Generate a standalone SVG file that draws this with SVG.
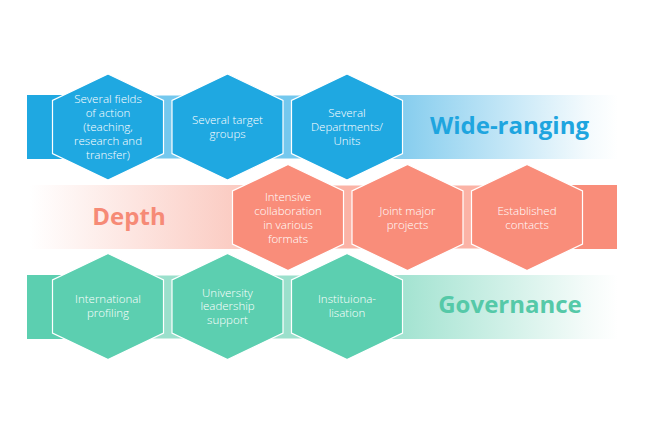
<svg xmlns="http://www.w3.org/2000/svg" xmlns:xlink="http://www.w3.org/1999/xlink" width="651" height="434" viewBox="0 0 651 434">
<style>
.hex{stroke:#ffffff;stroke-width:1.2}
.blue{fill:#1fa8e1}
.blueL{fill:#74c8ee;stroke:#ffffff;stroke-width:1}
.sal{fill:#f98d7a}
.salL{fill:#fbb3a6;stroke:#ffffff;stroke-width:1}
.grn{fill:#5ccfb0}
.grnL{fill:#9be0cc;stroke:#ffffff;stroke-width:1}
.lbl{font-family:"Open Sans","Liberation Sans",sans-serif;font-weight:300;font-size:11.5px;fill:#ffffff;text-anchor:middle}
.ttl{font-family:"Open Sans","Liberation Sans",sans-serif;font-weight:700;font-size:24px;text-anchor:middle}
</style>
<defs>
<polygon id="hx" points="0,-53 55.5,-26.5 55.5,26.5 0,53 -55.5,26.5 -55.5,-26.5"/>
<linearGradient id="gBlue" gradientUnits="userSpaceOnUse" x1="402" y1="0" x2="618" y2="0">
<stop offset="0" stop-color="#86cdee"/><stop offset="0.85" stop-color="#f3fafd"/><stop offset="1" stop-color="#ffffff"/>
</linearGradient>
<linearGradient id="gGrn" gradientUnits="userSpaceOnUse" x1="402" y1="0" x2="618" y2="0">
<stop offset="0" stop-color="#a3e3d1"/><stop offset="0.85" stop-color="#f4fbf9"/><stop offset="1" stop-color="#ffffff"/>
</linearGradient>
<linearGradient id="gSal" gradientUnits="userSpaceOnUse" x1="30" y1="0" x2="234" y2="0">
<stop offset="0" stop-color="#ffffff"/><stop offset="1" stop-color="#fbccc3"/>
</linearGradient>
</defs>
<rect width="651" height="434" fill="#ffffff"/>

<g id="connectors">
<rect x="347" y="95" width="272" height="64" fill="url(#gBlue)"/>
<rect class="blueL" x="108" y="95" width="239" height="64"/>
<rect class="blue" x="27" y="95" width="81" height="64"/>
<rect x="30" y="185" width="258" height="64" fill="url(#gSal)"/>
<rect class="salL" x="288" y="185" width="239" height="64"/>
<rect class="sal" x="527" y="185" width="90" height="64"/>
<rect x="347" y="275" width="272" height="64" fill="url(#gGrn)"/>
<rect class="grnL" x="108" y="275" width="239" height="64"/>
<rect class="grn" x="27" y="275" width="81" height="64"/>
</g>

<g id="n1">
<use href="#hx" class="hex blue" x="108" y="127"/>
<text class="lbl"><tspan x="108" y="103">Several fields</tspan><tspan x="108" y="117">of action</tspan><tspan x="108" y="131">(teaching,</tspan><tspan x="108" y="145">research and</tspan><tspan x="108" y="159">transfer)</tspan></text>
</g>
<g id="n2">
<use href="#hx" class="hex blue" x="227.5" y="127"/>
<text class="lbl"><tspan x="227.5" y="124">Several target</tspan><tspan x="227.5" y="137.5">groups</tspan></text>
</g>
<g id="n3">
<use href="#hx" class="hex blue" x="347" y="127"/>
<text class="lbl"><tspan x="347" y="117">Several</tspan><tspan x="347" y="131">Departments/</tspan><tspan x="347" y="145">Units</tspan></text>
</g>
<g id="t1">
<text class="ttl" x="509.5" y="134" fill="#1ea5df">Wide-ranging</text>
</g>

<g id="t2">
<text class="ttl" x="129" y="225" fill="#f68a76">Depth</text>
</g>
<g id="n4">
<use href="#hx" class="hex sal" x="288" y="217.5"/>
<text class="lbl"><tspan x="288" y="200.5">Intensive</tspan><tspan x="288" y="214.5">collaboration</tspan><tspan x="288" y="228.5">in various</tspan><tspan x="288" y="242.5">formats</tspan></text>
</g>
<g id="n5">
<use href="#hx" class="hex sal" x="407.5" y="217.5"/>
<text class="lbl"><tspan x="407.5" y="215">Joint major</tspan><tspan x="407.5" y="228.5">projects</tspan></text>
</g>
<g id="n6">
<use href="#hx" class="hex sal" x="527" y="217.5"/>
<text class="lbl"><tspan x="527" y="215">Established</tspan><tspan x="527" y="228.5">contacts</tspan></text>
</g>

<g id="n7">
<use href="#hx" class="hex grn" x="108" y="306.5"/>
<text class="lbl"><tspan x="108" y="302.5">International</tspan><tspan x="108" y="316.5">profiling</tspan></text>
</g>
<g id="n8">
<use href="#hx" class="hex grn" x="227.5" y="306.5"/>
<text class="lbl"><tspan x="227.5" y="296.5">University</tspan><tspan x="227.5" y="310">leadership</tspan><tspan x="227.5" y="324">support</tspan></text>
</g>
<g id="n9">
<use href="#hx" class="hex grn" x="347" y="306.5"/>
<text class="lbl"><tspan x="347" y="303">Instituiona-</tspan><tspan x="347" y="317">lisation</tspan></text>
</g>
<g id="t3">
<text class="ttl" x="510" y="313" fill="#55c9a8">Governance</text>
</g>
</svg>
